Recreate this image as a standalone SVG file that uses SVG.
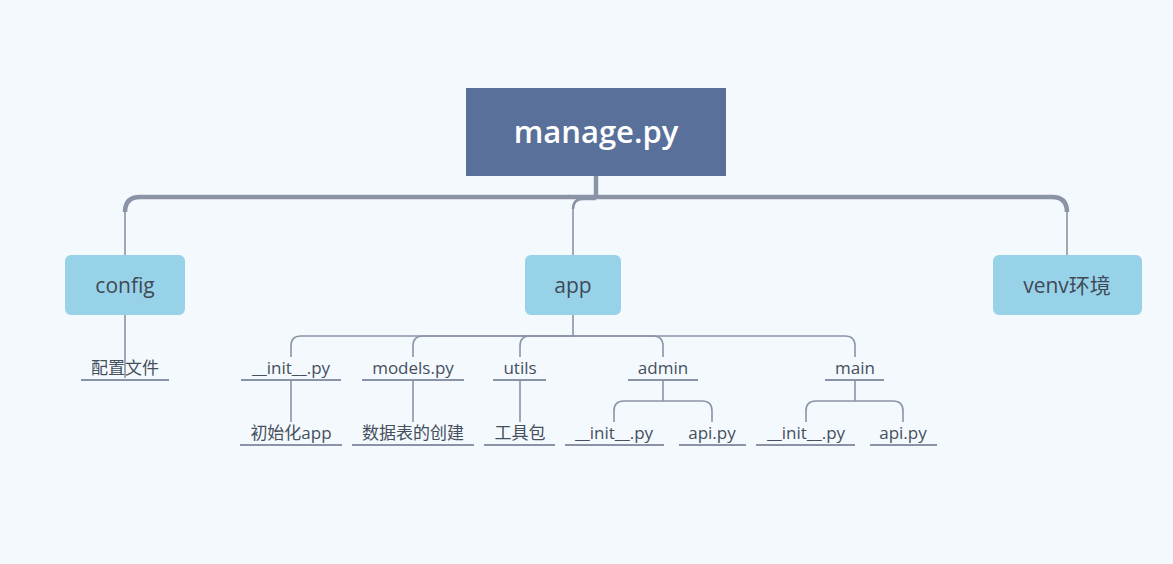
<svg xmlns="http://www.w3.org/2000/svg" width="1173" height="564" viewBox="0 0 1173 564">
<style>
text{font-family:"Open Sans","Noto Sans CJK SC","Noto Sans",sans-serif;text-anchor:middle;fill:#3e4a57}
.root{fill:#58709a}
.root-t{fill:#ffffff;font-size:31px;font-weight:600}
.box{fill:#98d2e8}
.bt{font-size:21px}
.lt{font-size:17px;fill:#454f5c}
.ul{stroke:#8a94a6;stroke-width:2;fill:none}
.thick{stroke:#8a94a6;stroke-width:4.5;fill:none}
.mid{stroke:#8a94a6;stroke-width:2.5;fill:none}
.thin{stroke:#8a94a6;stroke-width:1.6;fill:none}
</style>
<rect width="1173" height="564" fill="#f4f9fe"/>
<g id="connectors">
<path class="thick" d="M596,176 V199" stroke-width="5"/>
<path class="thick" d="M596,197 H140 Q125,197 125,212"/>
<path class="thin" d="M125,210 V255"/>
<path class="thick" d="M596,197 H1052 Q1067,197 1067,212"/>
<path class="thin" d="M1067,210 V255"/>
<path class="mid" d="M596,199 H583 Q573,199 573,209"/>
<path class="thin" d="M573,208 V255"/>
<path class="thin" d="M125,315 V378"/>
<path class="thin" d="M573,315 V336 H301 Q291,336 291,346 V357"/>
<path class="thin" d="M573,336 H423 Q413,336 413,346 V357"/>
<path class="thin" d="M573,336 H530 Q520,336 520,346 V357"/>
<path class="thin" d="M573,336 H653 Q663,336 663,346 V357"/>
<path class="thin" d="M573,336 H845 Q855,336 855,346 V357"/>
<path class="thin" d="M291,380 V422"/>
<path class="thin" d="M413,380 V422"/>
<path class="thin" d="M520,380 V422"/>
<path class="thin" d="M663,380 V401 H624 Q614,401 614,411 V422"/>
<path class="thin" d="M663,401 H702 Q712,401 712,411 V422"/>
<path class="thin" d="M855,380 V401 H816 Q806,401 806,411 V422"/>
<path class="thin" d="M855,401 H893 Q903,401 903,411 V422"/>
</g>
<g id="root"><rect class="root" x="466" y="88" width="260" height="88"/><text class="root-t" x="596" y="143">manage.py</text></g>
<g id="config"><rect class="box" x="65" y="255" width="120" height="60" rx="6"/><text class="bt" x="125" y="293">config</text></g>
<g id="app"><rect class="box" x="525" y="255" width="96" height="60" rx="6"/><text class="bt" x="573" y="293">app</text></g>
<g id="venv"><rect class="box" x="993" y="255" width="149" height="60" rx="6"/><text class="bt" x="1067" y="293">venv环境</text></g>
<g id="config-file"><text class="lt" x="125" y="374">配置文件</text><line class="ul" x1="81" y1="380" x2="169" y2="380"/></g>
<g id="app-init"><text class="lt" x="291" y="374">__init__.py</text><line class="ul" x1="241" y1="380" x2="341" y2="380"/></g>
<g id="app-models"><text class="lt" x="413" y="374">models.py</text><line class="ul" x1="362" y1="380" x2="464" y2="380"/></g>
<g id="app-utils"><text class="lt" x="520" y="374">utils</text><line class="ul" x1="493" y1="380" x2="546" y2="380"/></g>
<g id="app-admin"><text class="lt" x="663" y="374">admin</text><line class="ul" x1="628" y1="380" x2="698" y2="380"/></g>
<g id="app-main"><text class="lt" x="855" y="374">main</text><line class="ul" x1="825" y1="380" x2="884" y2="380"/></g>
<g id="init-desc"><text class="lt" x="291" y="439">初始化app</text><line class="ul" x1="240" y1="445" x2="342" y2="445"/></g>
<g id="models-desc"><text class="lt" x="413" y="439">数据表的创建</text><line class="ul" x1="352" y1="445" x2="474" y2="445"/></g>
<g id="utils-desc"><text class="lt" x="520" y="439">工具包</text><line class="ul" x1="484" y1="445" x2="555" y2="445"/></g>
<g id="admin-init"><text class="lt" x="614" y="439">__init__.py</text><line class="ul" x1="565" y1="445" x2="664" y2="445"/></g>
<g id="admin-api"><text class="lt" x="712" y="439">api.py</text><line class="ul" x1="679" y1="445" x2="746" y2="445"/></g>
<g id="main-init"><text class="lt" x="806" y="439">__init__.py</text><line class="ul" x1="756" y1="445" x2="855" y2="445"/></g>
<g id="main-api"><text class="lt" x="903" y="439">api.py</text><line class="ul" x1="870" y1="445" x2="937" y2="445"/></g>
</svg>
